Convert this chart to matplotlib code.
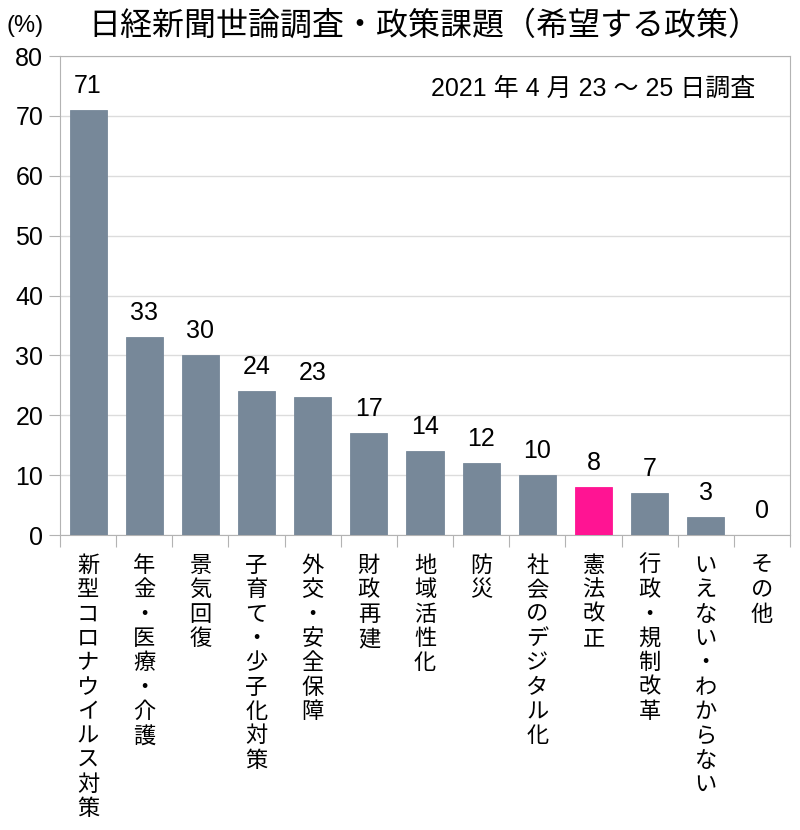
import matplotlib
matplotlib.use("Agg")
import matplotlib.pyplot as plt
import numpy as np

plt.rcParams["font.family"] = ["Liberation Sans", "Noto Sans CJK JP"]

# Data
CATEGORIES = [
    "新型コロナウイルス対策", "年金・医療・介護", "景気回復", "子育て・少子化対策",
    "外交・安全保障", "財政再建", "地域活性化", "防災", "社会のデジタル化",
    "憲法改正", "行政・規制改革", "いえない・わからない", "その他",
]
VALUES = [71, 33, 30, 24, 23, 17, 14, 12, 10, 8, 7, 3, 0]
HIGHLIGHT = "憲法改正"

BAR_COLOR = "#778899"
HIGHLIGHT_COLOR = "#ff1493"
GRID_COLOR = "#dcdcdc"
SPINE_COLOR = "#b3b3b3"

fig = plt.figure(figsize=(8, 8.3), dpi=100)
ax = fig.add_axes([0.075, 0.3554, 0.9125, 0.5771])

x = np.arange(len(CATEGORIES))
colors = [HIGHLIGHT_COLOR if c == HIGHLIGHT else BAR_COLOR for c in CATEGORIES]
ax.bar(x, VALUES, width=0.66, color=colors, edgecolor=colors, linewidth=0.6, zorder=3)

for xi, v in zip(x, VALUES):
    ax.text(xi, v + 2.0, str(v), ha="center", va="bottom", fontsize=18, zorder=4)

ax.set_xlim(-0.5, len(CATEGORIES) - 0.5)
ax.set_ylim(0, 80)
ax.set_yticks(range(0, 81, 10))
ax.tick_params(axis="y", labelsize=18, length=8, color=SPINE_COLOR, pad=4)
ax.yaxis.grid(True, color=GRID_COLOR, linewidth=1, zorder=0)

# category boundaries as tick marks, labels at centres
ax.set_xticks(np.arange(-0.5, len(CATEGORIES), 1.0))
ax.set_xticklabels([])
ax.tick_params(axis="x", which="major", length=8.5, color=SPINE_COLOR)
ax.set_xticks(x, minor=True)
ax.set_xticklabels(["\n".join(c) for c in CATEGORIES], minor=True,
                   fontsize=16, linespacing=1.21, va="top")
ax.tick_params(axis="x", which="minor", length=0, pad=15)

for s in ax.spines.values():
    s.set_color(SPINE_COLOR)

fig.text(0.53, 0.968, "日経新聞世論調査・政策課題（希望する政策）",
         ha="center", va="center", fontsize=23)
fig.text(0.031, 0.969, "(%)", ha="center", va="center", fontsize=17)
ax.text(0.953, 0.957, "2021 年 4 月 23 ～ 25 日調査", transform=ax.transAxes,
        ha="right", va="top", fontsize=18)

fig.savefig("out.png", dpi=100)
